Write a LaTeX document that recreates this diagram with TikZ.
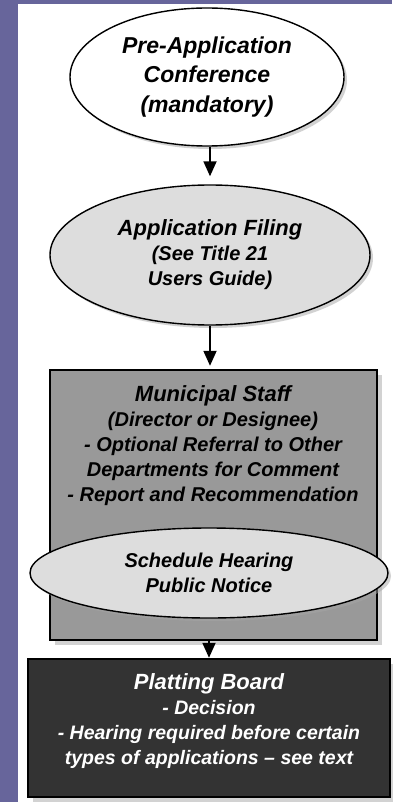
\documentclass[tikz,border=0pt]{standalone}
\usepackage{fontspec}
\setmainfont{Liberation Sans}
\usetikzlibrary{arrows.meta,shapes.geometric,shadows,positioning}

\definecolor{slide}{RGB}{103,101,155}
\definecolor{lightfill}{RGB}{221,221,221}
\definecolor{midfill}{RGB}{153,153,153}
\definecolor{darkfill}{RGB}{51,51,51}

\newcommand{\headsize}{\fontsize{22}{25}\selectfont}

\begin{document}
\begin{tikzpicture}[x=1pt, y=-1pt,
	every node/.style={font=\bfseries\itshape\fontsize{20}{25}\selectfont, align=center, inner sep=0pt},
	oval/.style={ellipse, draw, line width=1.4pt, drop shadow={shadow xshift=3pt, shadow yshift=-3pt, fill=black!35}},
	panel/.style={rectangle, draw, line width=2.4pt, drop shadow={shadow xshift=5pt, shadow yshift=-5pt, fill=black!35}},
	flow/.style={-{Triangle[length=15pt,width=13pt]}, line width=1.8pt}]
	\useasboundingbox (0,0) rectangle (392,802);
	\fill[slide] (0,0) rectangle (392,802);
	\fill[white] (18,4) rectangle (392,802);

	\node[oval, fill=white, minimum width=274pt, minimum height=138pt,
		font=\bfseries\itshape\fontsize{23}{29.5}\selectfont] (pre) at (207,77)
		{Pre-Application\\Conference\\(mandatory)};
	\node[oval, fill=lightfill, minimum width=320pt, minimum height=140pt] (filing) at (210,255)
		{{\headsize Application Filing}\\(See Title 21\\Users Guide)};

	\node[panel, fill=midfill, minimum width=327pt, minimum height=270pt] (staff) at (213.5,505) {};
	\node (stafftext) at (213,446)
		{{\headsize Municipal Staff}\\(Director or Designee)\\- Optional Referral to Other\\Departments for Comment\\- Report and Recommendation};
	\node[oval, fill=lightfill, minimum width=358pt, minimum height=90pt] (hearing) at (209,573)
		{Schedule Hearing\\Public Notice};

	\node[panel, fill=darkfill, minimum width=362pt, minimum height=138pt] (board) at (209,728) {};
	\node[text=white, font=\bfseries\itshape\fontsize{19.5}{25}\selectfont] (boardtext) at (209,721)
		{{\headsize Platting Board}\\- Decision\\- Hearing required before certain\\types of applications -- see text};

	\draw[flow, shorten >=8pt] (filing.north |- pre.south) -- (filing.north);
	\draw[flow, shorten >=3pt] (filing.south) -- (filing.south |- staff.north);
	\draw[flow] (board.north |- staff.south) -- (board.north);
\end{tikzpicture}
\end{document}
